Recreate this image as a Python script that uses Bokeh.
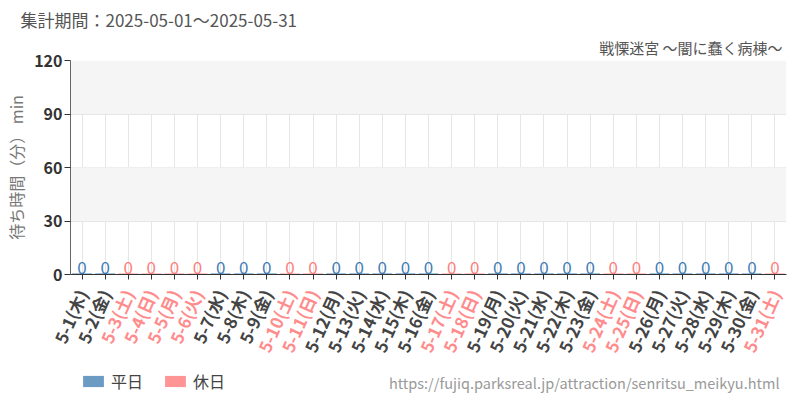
from bokeh.plotting import figure
from bokeh.models import (Label, ColumnDataSource, Legend, LegendItem,
                          FixedTicker, BoxAnnotation, Range1d, Title)
from bokeh.layouts import column
from bokeh.core.properties import value
from bokeh.embed import file_html
from bokeh.resources import INLINE
import math

FONT = "Noto Sans CJK JP"

# ---- data ----
days = list(range(1, 32))
dows = ["木", "金", "土", "日", "月", "火", "水", "木", "金", "土", "日", "月", "火", "水",
        "木", "金", "土", "日", "月", "火", "水", "木", "金", "土", "日", "月", "火", "水",
        "木", "金", "土"]
holidays = [3, 4, 5, 6, 10, 11, 17, 18, 24, 25, 31]
waits = [0, 0, 0, 0, 0, 0, 0, 0, 0, 0, 0, 0, 0, 0, 0, 0, 0, 0, 0, 0, 0, 0, 0, 0, 0,
         0, 0, 0, 0, 0, 0]
yticks = [0, 30, 60, 90, 120]
legend_labels = ["平日", "休日"]

labels = [f"5-{d}({w})" for d, w in zip(days, dows)]
is_hol = [d in holidays for d in days]
N = len(days)
xs = [i + 0.5 for i in range(N)]   # category centres on a numeric scale

WK_FILL, HO_FILL = "#6b9bc3", "#ff9494"
WK_LINE, HO_LINE = "#4a86bd", "#ff8f8f"
WK_TXT, HO_TXT = "#3f7db5", "#ff7d7d"
WK_LAB, HO_LAB = "#444444", "#ff8c8c"

# ---- layout constants ----
W = 800
LEFT, RIGHT = 70, 14
TOP, FRAME_H, BOT = 60, 214, 11
HA = TOP + FRAME_H + BOT
HB = 400 - HA
FW = W - LEFT - RIGHT

# ---- main chart ----
p = figure(x_range=Range1d(0, N), y_range=(0, 120), width=W, height=HA,
           output_backend="svg", toolbar_location=None,
           min_border_left=LEFT, min_border_right=RIGHT, min_border_top=TOP,
           min_border_bottom=BOT)
p.frame_align = False
p.outline_line_color = None

for lo, hi in [(30, 60), (90, 120)]:
    p.add_layout(BoxAnnotation(bottom=lo, top=hi, fill_color="#f5f5f5",
                               fill_alpha=1, line_color=None, level="underlay"))

def split(flag):
    return dict(x=[x for x, h in zip(xs, is_hol) if h == flag],
                y=[v for v, h in zip(waits, is_hol) if h == flag],
                t=[str(v) for v, h in zip(waits, is_hol) if h == flag])

wk = ColumnDataSource(split(False))
ho = ColumnDataSource(split(True))

p.vbar(x="x", top="y", bottom=0, width=0.86, source=wk,
       fill_color=WK_FILL, line_color=WK_LINE, line_width=2)
p.vbar(x="x", top="y", bottom=0, width=0.86, source=ho,
       fill_color=HO_FILL, line_color=HO_LINE, line_width=2)

p.text(x="x", y="y", text="t", source=wk, text_color=WK_TXT,
       text_font=value(FONT), text_font_size="17px", text_align="center",
       text_baseline="bottom", y_offset=-1)
p.text(x="x", y="y", text="t", source=ho, text_color=HO_TXT,
       text_font=value(FONT), text_font_size="17px", text_align="center",
       text_baseline="bottom", y_offset=-1)

p.yaxis.ticker = FixedTicker(ticks=yticks)
p.yaxis.axis_label = "待ち時間（分） min"
p.yaxis.axis_label_text_font = FONT
p.yaxis.axis_label_text_font_style = "normal"
p.yaxis.axis_label_text_font_size = "16px"
p.yaxis.axis_label_text_color = "#777777"
p.yaxis.axis_label_standoff = 3
p.yaxis.major_label_text_font = FONT
p.yaxis.major_label_text_font_style = "bold"
p.yaxis.major_label_text_font_size = "16px"
p.yaxis.major_label_text_color = "#333333"
p.yaxis.major_label_standoff = 2
p.yaxis.axis_line_color = "#666666"
p.yaxis.major_tick_line_color = "#333333"
p.yaxis.major_tick_out = 6
p.yaxis.major_tick_in = 0
p.yaxis.minor_tick_line_color = None

xticker = FixedTicker(ticks=[], minor_ticks=xs)
p.xaxis.ticker = xticker
p.xaxis.axis_line_color = "#333333"
p.xaxis.minor_tick_line_color = "#333333"
p.xaxis.minor_tick_out = 5
p.xaxis.minor_tick_in = 0
p.xaxis.major_tick_line_color = None

p.xgrid.ticker = xticker
p.xgrid.grid_line_color = None
p.xgrid.minor_grid_line_color = "#e6e6e6"
p.ygrid.grid_line_color = "#e6e6e6"
p.ygrid.ticker = FixedTicker(ticks=yticks)

p.add_layout(Title(text="戦慄迷宮 ～闇に蠢く病棟～", align="right", offset=4,
                   standoff=5, text_font=FONT, text_font_size="15px",
                   text_font_style="normal", text_color="#555555"), "above")
p.add_layout(Title(text="集計期間：2025-05-01～2025-05-31", align="left",
                   offset=-50, standoff=2, text_font=FONT,
                   text_font_size="17px", text_font_style="normal",
                   text_color="#555555"), "above")

# ---- bottom panel: x labels, legend, source ----
x0 = -LEFT * N / FW
x1 = (W - LEFT) * N / FW
b = figure(width=W, height=HB, x_range=Range1d(x0, x1), y_range=Range1d(-HB, 0),
           x_axis_type=None, y_axis_type=None,
           output_backend="svg", toolbar_location=None, min_border=0,
           min_border_left=0, min_border_right=0, min_border_top=0,
           min_border_bottom=0)
b.frame_align = False
b.grid.visible = False
b.outline_line_color = None

lab_src = ColumnDataSource(dict(x=xs, y=[-5] * N, t=labels,
                                c=[HO_LAB if h else WK_LAB for h in is_hol]))
b.text(x="x", y="y", text="t", source=lab_src, text_color="c",
       angle=66 * math.pi / 180, text_align="right", text_baseline="middle",
       text_font=value(FONT), text_font_size="17px", text_font_style="bold")

lw = b.vbar(x="x", top="y", bottom=0, width=0.86, source=ColumnDataSource(split(False)),
            fill_color=WK_FILL, line_alpha=0)
lh = b.vbar(x="x", top="y", bottom=0, width=0.86, source=ColumnDataSource(split(True)),
            fill_color=HO_FILL, line_alpha=0)
legend = Legend(items=[LegendItem(label=legend_labels[0], renderers=[lw]),
                       LegendItem(label=legend_labels[1], renderers=[lh])],
                location=(80, 7), orientation="horizontal",
                glyph_width=26, glyph_height=14, label_height=14,
                label_width=20, padding=0, margin=0,
                spacing=19, label_standoff=5, border_line_color=None,
                background_fill_alpha=0, label_text_font=FONT,
                label_text_font_size="16px", label_text_color="#444444",
                label_text_baseline="middle")
b.add_layout(legend)

b.add_layout(Label(x=779, y=18, x_units="screen", y_units="screen",
                   text="https://fujiq.parksreal.jp/attraction/senritsu_meikyu.html",
                   text_font=FONT, text_font_size="14.5px",
                   text_color="#999999", text_baseline="middle",
                   text_align="right"))

layout = column(p, b, spacing=0)
open("out.html", "w").write(file_html(layout, INLINE))
